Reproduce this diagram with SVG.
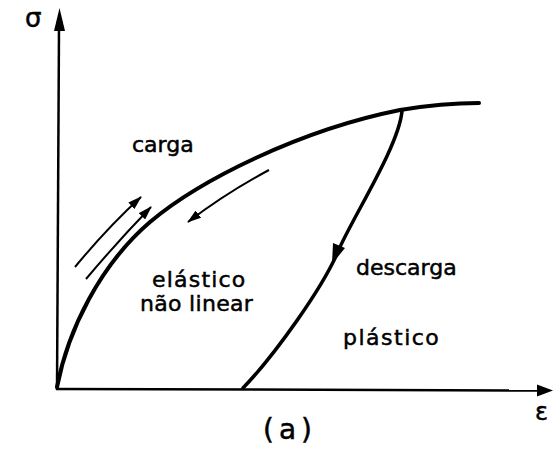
<svg xmlns="http://www.w3.org/2000/svg" width="554" height="451" viewBox="0 0 554 451">
<style>
.t{font-family:"DejaVu Sans","Liberation Sans",sans-serif;font-size:22px;fill:#000;stroke:#000;stroke-width:0.5}
.ax{stroke:#000;stroke-width:2.5;fill:none}
.cv{stroke:#000;stroke-width:4;fill:none;stroke-linecap:round}
.sa{stroke:#000;stroke-width:2;fill:none;marker-end:url(#ah)}
</style>
<defs>
<marker id="ah" markerWidth="14" markerHeight="9" refX="13" refY="4.5" orient="auto" markerUnits="userSpaceOnUse">
<path d="M0,0 L14,4.5 L0,9 Z" fill="#000"/>
</marker>
</defs>
<rect width="554" height="451" fill="#fff"/>
<g id="axes">
<path class="ax" d="M57,390 L59,28"/>
<polygon points="59.5,8 54,31 65,31" fill="#000"/>
<path class="ax" d="M56,389 L540,390.5"/>
<polygon points="553,390.5 537,384.5 537,396.5" fill="#000"/>
<text class="t" x="25" y="27" style="font-size:26px">σ</text>
<text class="t" x="535" y="420" style="font-size:24px">ε</text>
</g>
<g id="connectors">
<path id="loading" class="cv" d="M57,387 C68,330 100,265 150,222 C200,180 300,130 400,110 C430,105 455,103 479,103"/>
<path id="unloading" class="cv" style="stroke-width:3.5" d="M402,111 C399,145 356,212 340,247 C324,287 273,357 243,388"/>
<polygon points="332,264 345,248 333,243" fill="#000"/>
<path class="sa" d="M75,267 Q108,227 141,197"/>
<path class="sa" d="M86,279 Q118,241 151,207"/>
<path class="sa" d="M269,170 Q226,193 188,222"/>
</g>
<g id="labels">
<text class="t" x="132" y="152">carga</text>
<text class="t" x="152" y="287" letter-spacing="1.2">elástico</text>
<text class="t" x="140" y="311" letter-spacing="0.3">não linear</text>
<text class="t" x="356" y="275">descarga</text>
<text class="t" x="343" y="345" letter-spacing="1.5">plástico</text>
<text class="t" x="263" y="439" style="font-size:28px" letter-spacing="5">(a)</text>
</g>
</svg>
